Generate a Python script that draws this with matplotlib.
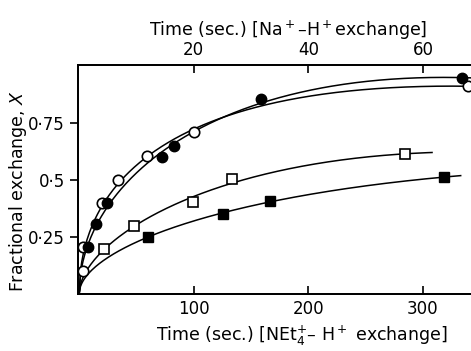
import numpy as np
import matplotlib
matplotlib.use("Agg")
import matplotlib.pyplot as plt

# Na+-H+ exchange (top axis, seconds)
na_open_t = [0.64, 0.76, 4.06, 6.8, 11.8, 20.0, 67.8]
na_open_x = [0.10, 0.205, 0.40, 0.50, 0.605, 0.71, 0.912]
na_fill_t = [1.6, 2.9, 4.8, 14.4, 16.6, 31.8, 66.8]
na_fill_x = [0.207, 0.307, 0.398, 0.602, 0.649, 0.855, 0.946]
# NEt4+-H+ exchange (bottom axis, seconds)
ne_open_t = [21.8, 48.0, 99.8, 133.4, 284.0]
ne_open_x = [0.199, 0.30, 0.405, 0.504, 0.613]
ne_fill_t = [60.0, 125.5, 166.8, 318.0]
ne_fill_x = [0.251, 0.351, 0.408, 0.512]

bottom_ticks = [100, 200, 300]
top_ticks = [20, 40, 60]
y_ticks = [0.25, 0.5, 0.75]
y_ticklabels = ["0·25", "0·5", "0·75"]


def fit_curve(t, x, tmax):
    t = np.asarray(t, float)
    x = np.asarray(x, float)
    s = np.sqrt(t)
    A = np.vstack([s, s**2, s**3]).T
    coef, *_ = np.linalg.lstsq(A, x, rcond=None)
    tt = np.linspace(0, tmax, 300)
    ss = np.sqrt(tt)
    return tt, coef[0]*ss + coef[1]*ss**2 + coef[2]*ss**3


plt.rcParams['font.family'] = ['DejaVu Sans']
fig = plt.figure(figsize=(4.71, 3.51), dpi=100)
ax = fig.add_axes([78/471, 57/351, 393/471, 229/351])
ax.set_xlim(-1, 342)
ax.set_ylim(0, 1.004)
ax2 = ax.twiny()
ax2.set_xlim(-1/5, 342/5)
ax2.set_ylim(0, 1.004)

lw = 1.1
ms = 7.5
# circles on top axis
tt, yy = fit_curve(na_open_t, na_open_x, 342/5)
ax2.plot(tt, yy, color='black', lw=lw)
tt, yy = fit_curve(na_fill_t, na_fill_x, 342/5)
ax2.plot(tt, yy, color='black', lw=lw)
ax2.plot(na_open_t, na_open_x, 'o', mfc='white', mec='black', mew=1.2, ms=ms, ls='none')
ax2.plot(na_fill_t, na_fill_x, 'o', mfc='black', mec='black', ms=ms, ls='none')

# squares on bottom axis
tt, yy = fit_curve(ne_open_t, ne_open_x, 308)
ax.plot(tt, yy, color='black', lw=lw)
tt, yy = fit_curve(ne_fill_t, ne_fill_x, 333)
ax.plot(tt, yy, color='black', lw=lw)
ax.plot(ne_open_t, ne_open_x, 's', mfc='white', mec='black', mew=1.2, ms=ms, ls='none')
ax.plot(ne_fill_t, ne_fill_x, 's', mfc='black', mec='black', ms=ms, ls='none')

for a in (ax, ax2):
    a.spines['right'].set_visible(False)
    for sp in a.spines.values():
        sp.set_linewidth(1.3)

ax.set_xticks(bottom_ticks)
ax.tick_params(axis='x', direction='in', length=6, width=1.2, labelsize=12, pad=4)
ax.set_yticks(y_ticks)
ax.set_yticklabels(y_ticklabels)
ax.tick_params(axis='y', direction='out', length=6, width=1.2, labelsize=12)
ax2.set_xticks(top_ticks)
ax2.tick_params(axis='x', direction='in', length=6, width=1.2, labelsize=12, pad=4)

ax.set_xlabel(r"Time (sec.) [NEt$_4^{+}$– H$^+$ exchange]", fontsize=12.5)
ax.xaxis.set_label_coords(0.57, -0.13)
ax2.set_xlabel(r"Time (sec.) [Na$^+$–H$^+$exchange]", fontsize=12.5)
ax2.xaxis.set_label_coords(0.535, 1.13)
ax.set_ylabel(r"Fractional exchange, $X$", fontsize=12.5)
ax.yaxis.set_label_coords(-0.125, 0.45)

fig.savefig("out.png", dpi=100)
